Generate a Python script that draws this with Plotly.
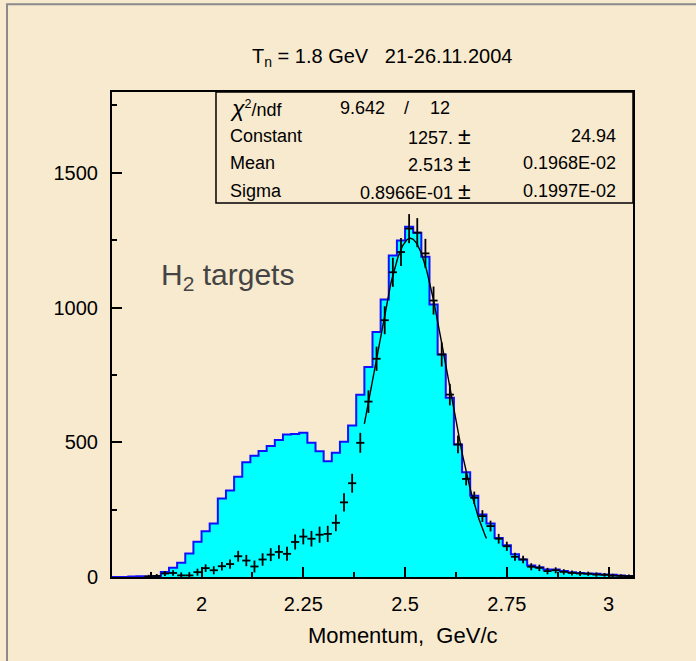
import numpy as np
import plotly.graph_objects as go

# ---- histogram binning: 64 bins of 0.02 GeV/c from 1.78 to 3.06 ----
bin_lo = 1.78
bin_w = 0.02
n_bins = 64

# total momentum spectrum (filled histogram)
hist_counts = [0, 0, 2, 3, 2, 4, 19, 34, 53, 87,
               131, 170, 199, 291, 321, 372, 426, 450, 468, 486,
               508, 529, 531, 535, 498, 467, 430, 461, 502, 562,
               676, 779, 909, 1030, 1193, 1249, 1300, 1278, 1189, 1011,
               826, 665, 492, 389, 302, 232, 199, 145, 118, 84,
               65, 43, 36, 28, 28, 22, 18, 15, 13, 12,
               9, 8, 6, 4]

# background-subtracted spectrum (points with errors)
sub_counts = [None, None, None, None, 2, 4, 13, 15, 6, 6,
              18, 33, 25, 40, 48, 77, 61, 39, 65, 83,
              93, 86, 130, 150, 142, 157, 160, 201, 277, 348,
              498, 651, 810, 953, 1131, 1206, 1293, 1278, 1201, 1026,
              826, 677, 492, 364, 294, 226, 189, 142, 114, 75,
              65, 38, 34, 22, 25, 19, 15, 13, 12, 9,
              8, 5, 4, 3]
sub_errors = [None, None, None, None, 6, 7, 9, 10, 11, 12,
              13, 14, 15, 16, 17, 20, 21, 22, 23, 24,
              25, 26, 28, 29, 29, 30, 30, 31, 34, 35,
              37, 42, 45, 52, 54, 52, 54, 54, 54, 52,
              45, 40, 33, 24, 23, 22, 20, 18, 17, 15,
              14, 13, 12, 12, 11, 10, 9, 9, 8, 8,
              7, 7, 6, 6]

# Gaussian fit results
fit_const = 1257.0
fit_mean = 2.513
fit_sigma = 0.08966
fit_range = (2.40, 2.70)

PM = '<span style="font-size:23px">±</span>'
stats_rows = [
    ('<span style="font-size:23px"><i>χ</i></span><sup>2</sup>/ndf', "9.642", "/", "12"),
    ("Constant", "1257. " + PM, None, "24.94"),
    ("Mean", "2.513 " + PM, None, "0.1968E-02"),
    ("Sigma", "0.8966E-01 " + PM, None, "0.1997E-02"),
]

x_ticks = [2, 2.25, 2.5, 2.75, 3]
x_tick_labels = ["2", "2.25", "2.5", "2.75", "3"]
y_ticks = [0, 500, 1000, 1500]
y_tick_labels = ["0", "500", "1000", "1500"]

edges = [bin_lo + bin_w * i for i in range(n_bins + 1)]
centers = [bin_lo + bin_w * (i + 0.5) for i in range(n_bins)]

FONT = "Liberation Sans, Arial, Helvetica, sans-serif"
BG = "#f8eacf"

fig = go.Figure()

# filled step histogram
fig.add_trace(go.Scatter(
    x=edges, y=hist_counts + [hist_counts[-1]],
    mode="lines", line=dict(shape="hv", color="#1010ff", width=2),
    fill="tozeroy", fillcolor="#00ffff", hoverinfo="skip", showlegend=False,
))

# data points: horizontal bar = bin width, vertical bar = error
fig.add_trace(go.Scatter(
    x=centers, y=sub_counts, mode="markers",
    marker=dict(size=1, color="black"),
    error_x=dict(type="constant", value=bin_w / 2, width=0, thickness=1.8, color="black"),
    error_y=dict(type="data", array=sub_errors, width=0, thickness=1.8, color="black"),
    showlegend=False,
))

# Gaussian fit curve
xf = np.linspace(fit_range[0], fit_range[1], 200)
yf = fit_const * np.exp(-0.5 * ((xf - fit_mean) / fit_sigma) ** 2)
fig.add_trace(go.Scatter(x=xf, y=yf, mode="lines",
                         line=dict(color="black", width=1.4), showlegend=False))

fig.update_layout(
    width=696, height=661,
    margin=dict(l=112, r=63, t=92, b=84),
    paper_bgcolor=BG, plot_bgcolor=BG,
    font=dict(family=FONT, color="black"),
    xaxis=dict(range=[bin_lo, bin_lo + bin_w * n_bins], showgrid=False, zeroline=False,
               showline=True, linecolor="black", linewidth=2, mirror=True,
               tickmode="array", tickvals=x_ticks, ticktext=x_tick_labels,
               ticks="inside", ticklen=10, tickwidth=2, tickcolor="black",
               ticklabelstandoff=8, tickfont=dict(size=20, family=FONT),
               minor=dict(tickmode="linear", tick0=0, dtick=0.125, ticks="inside",
                          ticklen=5, tickwidth=1.5, tickcolor="black")),
    yaxis=dict(range=[0, 1800], showgrid=False, zeroline=False,
               showline=True, linecolor="black", linewidth=2, mirror=True,
               tickmode="array", tickvals=y_ticks, ticktext=y_tick_labels,
               ticks="inside", ticklen=10, tickwidth=2, tickcolor="black",
               ticklabelstandoff=8, tickfont=dict(size=20, family=FONT),
               minor=dict(tickmode="linear", tick0=0, dtick=250, ticks="inside",
                          ticklen=5, tickwidth=1.5, tickcolor="black")),
)

# stats box in the upper right corner
bx0, by0 = 0.1996, 0.771
fig.add_shape(type="rect", xref="paper", yref="paper", x0=bx0, y0=by0, x1=1, y1=1,
              line=dict(color="black", width=1.5), fillcolor=BG, layer="above")

row_y = [0.967, 0.909, 0.854, 0.796]
for (label, val, sep, err), yy in zip(stats_rows, row_y):
    fig.add_annotation(xref="paper", yref="paper", x=0.223, y=yy, text=label,
                       showarrow=False, xanchor="left", yanchor="middle",
                       font=dict(size=18, family=FONT))
    if sep is not None:
        fig.add_annotation(xref="paper", yref="paper", x=0.434, y=yy, text=val,
                           showarrow=False, xanchor="left", yanchor="middle",
                           font=dict(size=18, family=FONT))
        fig.add_annotation(xref="paper", yref="paper", x=0.565, y=yy, text=sep,
                           showarrow=False, xanchor="center", yanchor="middle",
                           font=dict(size=18, family=FONT))
        fig.add_annotation(xref="paper", yref="paper", x=0.607, y=yy, text=err,
                           showarrow=False, xanchor="left", yanchor="middle",
                           font=dict(size=18, family=FONT))
    else:
        fig.add_annotation(xref="paper", yref="paper", x=0.693, y=yy, text=val,
                           showarrow=False, xanchor="right", yanchor="middle",
                           font=dict(size=18, family=FONT))
        fig.add_annotation(xref="paper", yref="paper", x=0.971, y=yy, text=err,
                           showarrow=False, xanchor="right", yanchor="middle",
                           font=dict(size=18, family=FONT))

# title
fig.add_annotation(xref="paper", yref="paper", x=0.518, y=1.072,
                   text="T<sub>n</sub> = 1.8 GeV   21-26.11.2004", showarrow=False,
                   xanchor="center", yanchor="middle", font=dict(size=20, family=FONT))

# x axis title
fig.add_annotation(xref="paper", yref="paper", x=0.5585, y=-0.12,
                   text="Momentum,  GeV/c", showarrow=False,
                   xanchor="center", yanchor="middle", font=dict(size=22, family=FONT))

# target label
fig.add_annotation(xref="paper", yref="paper", x=0.09, y=0.62,
                   text="H<sub>2</sub> targets", showarrow=False,
                   xanchor="left", yanchor="middle",
                   font=dict(size=30, family=FONT, color="#444444"))

# outer slide frame
fig.add_shape(type="rect", xref="paper", yref="paper",
              x0=-0.2015, y0=-0.3, x1=1.3, y1=1.181,
              line=dict(color="#8a8a8a", width=2), fillcolor="rgba(0,0,0,0)", layer="below")

fig.write_html("out.html")
